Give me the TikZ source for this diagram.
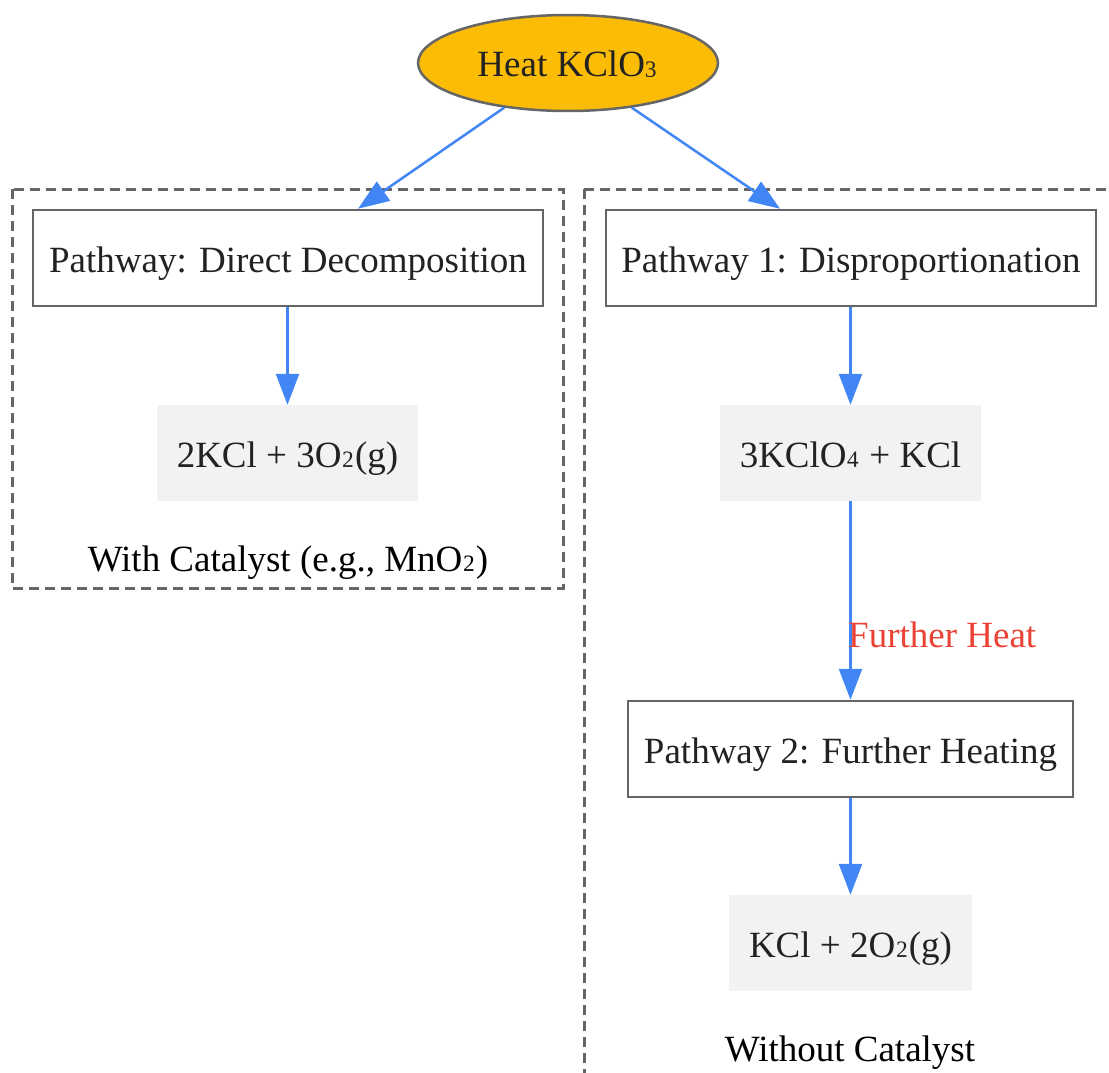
\documentclass[tikz,border=0pt]{standalone}
\usepackage{fontspec}
\setmainfont{Liberation Serif}
\usetikzlibrary{arrows.meta,shapes.geometric}
\definecolor{amber}{HTML}{FBBC05}
\definecolor{edgegray}{HTML}{666666}
\definecolor{arrowblue}{HTML}{4285F4}
\definecolor{labelred}{HTML}{EA4335}
\definecolor{prodfill}{HTML}{F1F2F4}
\definecolor{txt}{HTML}{222222}
\newcommand\subch[1]{\raisebox{7.5pt}{\scalebox{1.05}{#1}}}
\begin{document}
\begin{tikzpicture}[x=1pt,y=-1pt,
 every node/.style={font=\fontsize{37}{44}\selectfont, text=txt, inner sep=0pt, text height=32pt, text depth=4pt},
 stepbox/.style={draw=edgegray, line width=2.5pt, fill=white, minimum height=96pt},
 prod/.style={fill=prodfill, minimum height=96pt},
 startnode/.style={ellipse, draw=edgegray, line width=2.5pt, fill=amber, minimum width=300pt, minimum height=96pt},
 cluster/.style={draw=edgegray, line width=3pt, dash pattern=on 10pt off 6pt},
 arr/.style={draw=arrowblue, line width=2.5pt, -{Triangle[length=31pt,width=23pt]}},
]
\useasboundingbox (0,0) rectangle (1109,1073);
\clip (0,0) rectangle (1109,1073);
% clusters
\draw[cluster] (12,189) rectangle (563,588);
\draw[cluster] (584,189) rectangle (1140,1110);
% nodes
\node[startnode] (e) at (568,63) {Heat KClO\subch{₃}};
\node[stepbox, minimum width=510pt] (A) at (288,258) {Pathway: Direct Decomposition};
\node[stepbox, minimum width=490pt] (B) at (851,258) {Pathway 1: Disproportionation};
\node[prod, minimum width=261pt] (P1) at (287.5,453) {2KCl + 3O\subch{₂}(g)};
\node[prod, minimum width=261pt] (P2) at (850.5,453) {3KClO\subch{₄} + KCl};
\node[stepbox, minimum width=445pt] (C) at (850.5,749) {Pathway 2: Further Heating};
\node[prod, minimum width=243pt] (P3) at (850.5,943) {KCl + 2O\subch{₂}(g)};
\node[text=black] (LW) at (288,557) {With Catalyst (e.g., MnO\subch{₂})};
\node[text=black] (LWo) at (850,1047) {Without Catalyst};
% edges
\draw[arr] (e.215) -- ([xshift=70pt]A.north);
\draw[arr] (e.325) -- ([xshift=-71pt]B.north);
\draw[arr] (P1.north |- A.south) -- (P1.north);
\draw[arr] (P2.north |- B.south) -- (P2.north);
\draw[arr] (P2.south) -- (C.north);
\draw[arr] (C.south) -- (P3.north);
\node[text=labelred, anchor=west] (FH) at (848,633) {Further Heat};
\end{tikzpicture}
\end{document}
